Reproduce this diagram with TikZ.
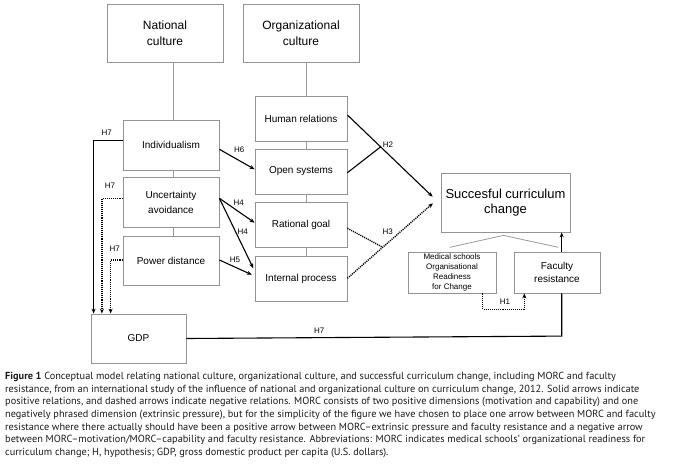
\documentclass[tikz,border=0pt]{standalone}
\usepackage{fontspec}
\setmainfont{Liberation Sans}
\newfontfamily\capfont[Ligatures=TeX]{PT Sans}
\usepackage{tikz}
\usetikzlibrary{arrows.meta,calc}

\begin{document}
\begin{tikzpicture}[x=1pt,y=-1pt,
  box/.style={draw=gray!85,line width=0.8pt,fill=white,inner sep=0pt,align=center,
    font=\fontsize{10}{15}\selectfont},
  big/.style={box,font=\fontsize{12}{15.6}\selectfont},
  con/.style={line width=1.1pt},
  arr/.style={con,-{Stealth[length=5pt,width=4pt]}},
  neg/.style={arr,densely dotted,line width=1.4pt},
  link/.style={gray!80,line width=0.8pt},
  hyp/.style={font=\fontsize{8}{9}\selectfont,inner sep=0pt}]
\useasboundingbox (0,0) rectangle (683,465);

\node[big,minimum width=116pt,minimum height=58pt] (natcult) at (165,33) {National\\culture};
\node[big,minimum width=116pt,minimum height=58pt] (orgcult) at (301,33) {Organizational\\culture};

\node[box,minimum width=96pt,minimum height=50pt] (indiv) at (171,145) {Individualism};
\node[box,minimum width=96pt,minimum height=50pt] (uncert) at (171,202) {Uncertainty\\avoidance};
\node[box,minimum width=96pt,minimum height=49pt] (power) at (171,260.5) {Power distance};
\node[box,minimum width=95pt,minimum height=49pt] (gdp) at (138.5,338.5) {GDP};

\node[box,minimum width=92pt,minimum height=45pt] (human) at (301,118.5) {Human relations};
\node[box,minimum width=92pt,minimum height=45pt] (open) at (301,171.5) {Open systems};
\node[box,minimum width=92pt,minimum height=45pt] (rational) at (301,225) {Rational goal};
\node[box,minimum width=92pt,minimum height=45pt] (internal) at (301,278.5) {Internal process};

\node[box,minimum width=129pt,minimum height=59pt,font=\fontsize{13}{15.7}\selectfont] (success) at (505.5,202.5) {Succesful curriculum\\change};
\node[box,minimum width=88pt,minimum height=41pt,font=\fontsize{8}{9.8}\selectfont] (morc) at (452,272.5) {Medical schools\\Organisational\\Readiness\\for Change};
\node[box,minimum width=86pt,minimum height=41pt,font=\fontsize{10}{13.3}\selectfont] (faculty) at (557,272.5) {Faculty\\resistance};

% grey links inside the two columns
\draw[link] ([xshift=2pt]indiv.north) -- ([xshift=2pt]indiv.north |- natcult.south);
\draw[link] ([xshift=2pt]indiv.south) -- ([xshift=2pt]uncert.north);
\draw[link] ([xshift=2pt]uncert.south) -- ([xshift=2pt]power.north);
\draw[link] ([xshift=5pt]human.north) -- ([xshift=5pt]human.north |- orgcult.south);
\draw[link] ([xshift=5pt]human.south) -- ([xshift=5pt]open.north);
\draw[link] ([xshift=5pt]open.south) -- ([xshift=5pt]rational.north);
\draw[link] ([xshift=5pt]rational.south) -- ([xshift=5pt]internal.north);
\draw[link] ([xshift=-2pt,yshift=4.3pt]morc.north) -- ([xshift=-2.2pt,yshift=-3pt]success.south)
  -- ([xshift=1.3pt,yshift=4.3pt]faculty.north);

% H7 towards GDP
\draw[arr] ([yshift=4.3pt]indiv.west) -| ([xshift=3pt]gdp.north west);
\draw[neg] ([yshift=3.7pt]uncert.west) -| ([xshift=11.3pt]gdp.north west);
\draw[neg] ([yshift=0.5pt]power.west) -| ([xshift=20pt]gdp.north west);
\node[hyp] (h7a) at (106.7,132.7) {H7};
\node[hyp] (h7b) at (110,185.7) {H7};
\node[hyp] (h7c) at (114.7,248.3) {H7};

% national -> organizational
\draw[arr] ([yshift=-4.3pt]indiv.east) -- ([yshift=2.2pt]open.west);
\draw[arr] ([yshift=3.7pt]uncert.east) -- ([yshift=2.3pt]rational.west);
\draw[arr,shorten >=3pt] ([yshift=3.7pt]uncert.east) -- ([yshift=7.5pt]internal.west);
\draw[arr,shorten >=3pt] ([yshift=0.5pt]power.east) -- ([yshift=2.5pt]internal.west);
\node[hyp] (h6) at (239.3,149.3) {H6};
\node[hyp] (h4a) at (238.7,203) {H4};
\node[hyp] (h4b) at (242.7,231.7) {H4};
\node[hyp] (h5) at (235,260) {H5};

% organizational -> change
\coordinate (h2s) at ([yshift=3.5pt]human.east);
\coordinate (h2e) at ([xshift=-8pt,yshift=5.8pt]success.west);
\draw[arr] (h2s) -- (h2e);
\draw[con] ([yshift=-1.2pt]open.east) -- ($(h2s)!0.39!(h2e)$);
\coordinate (h3s) at ([yshift=0.2pt]internal.east);
\coordinate (h3e) at ([xshift=-7.7pt,yshift=-0.8pt]success.west);
\draw[neg] (h3s) -- (h3e);
\draw[con,densely dotted,line width=1.4pt] ([yshift=-3.3pt]rational.east) -- ($(h3s)!0.414!(h3e)$);
\node[hyp] (h2) at (388,145) {H2};
\node[hyp] (h3) at (387.7,231.7) {H3};

% faculty resistance, MORC, GDP
\draw[arr] ([xshift=4.7pt]faculty.north) -- ([xshift=4.7pt]faculty.north |- success.south);
\coordinate (gdpc) at ([xshift=4.7pt,yshift=-42.7pt]faculty.south);
\draw[con] (gdp.east) -- (gdpc) -- ([xshift=4.7pt]faculty.south);
\node[hyp] (h7d) at (319.3,331) {H7};
\draw[neg] ([xshift=30.7pt]morc.south) -- ++(0,16) -| ([xshift=-32.7pt]faculty.south);
\node[hyp] (h1) at (505,301.7) {H1};

\node[anchor=north west,inner sep=0pt,align=left,text=black!90,
  font=\capfont\fontsize{10.3}{12.67}\selectfont] (caption) at (5,372)
  {\textbf{Figure 1} Conceptual model relating national culture, organizational culture, and successful curriculum change, including MORC and faculty\\
  resistance, from an international study of the influence of national and organizational culture on curriculum change, 2012. Solid arrows indicate\\
  positive relations, and dashed arrows indicate negative relations. MORC consists of two positive dimensions (motivation and capability) and one\\
  negatively phrased dimension (extrinsic pressure), but for the simplicity of the figure we have chosen to place one arrow between MORC and faculty\\
  resistance where there actually should have been a positive arrow between MORC–extrinsic pressure and faculty resistance and a negative arrow\\
  between MORC–motivation/MORC–capability and faculty resistance. Abbreviations: MORC indicates medical schools’ organizational readiness for\\
  curriculum change; H, hypothesis; GDP, gross domestic product per capita (U.S. dollars).};
\end{tikzpicture}
\end{document}
